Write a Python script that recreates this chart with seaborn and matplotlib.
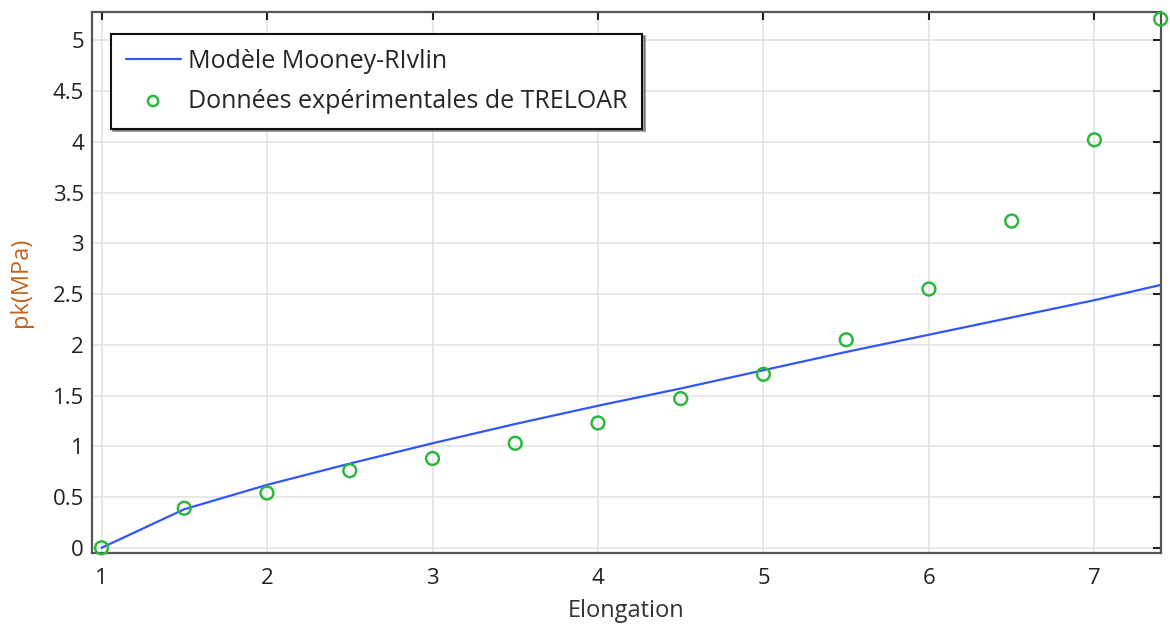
import matplotlib
matplotlib.use('Agg')
import matplotlib.pyplot as plt
import seaborn as sns
import pandas as pd

# Mooney-Rivlin model curve
model_elong = [1.0, 1.5, 2.0, 2.5, 3.0, 3.5, 4.0, 4.5, 5.0, 5.5, 6.0, 6.5, 7.0, 7.4]
model_pk = [0.0, 0.38, 0.62, 0.83, 1.03, 1.22, 1.40, 1.57, 1.75, 1.93, 2.10, 2.27, 2.44, 2.59]

# Treloar experimental data
exp_elong = [1.0, 1.5, 2.0, 2.5, 3.0, 3.5, 4.0, 4.5, 5.0, 5.5, 6.0, 6.5, 7.0, 7.4]
exp_pk = [0.0, 0.39, 0.54, 0.76, 0.88, 1.03, 1.23, 1.47, 1.71, 2.05, 2.55, 3.22, 4.02, 5.21]

x_ticks = [1, 2, 3, 4, 5, 6, 7]
y_ticks = [0, 0.5, 1, 1.5, 2, 2.5, 3, 3.5, 4, 4.5, 5]
y_ticklabels = ['0', '0.5', '1', '1.5', '2', '2.5', '3', '3.5', '4', '4.5', '5']

df_model = pd.DataFrame({'Elongation': model_elong, 'pk': model_pk})
df_exp = pd.DataFrame({'Elongation': exp_elong, 'pk': exp_pk})

sns.set_style('whitegrid')
plt.rcParams['font.family'] = ['Open Sans', 'DejaVu Sans']

fig = plt.figure(figsize=(11.7, 6.29), dpi=100)
ax = fig.add_axes([0.079, 0.121, 0.913, 0.860])

sns.lineplot(data=df_model, x='Elongation', y='pk', ax=ax, color='#3355ff',
             linewidth=1.6, label='Modèle Mooney-RIvlin')
sns.scatterplot(data=df_exp, x='Elongation', y='pk', ax=ax, marker='o',
                facecolor='none', edgecolor='#2db83d', linewidth=1.8, s=85,
                label='Données expérimentales de TRELOAR', clip_on=False, zorder=5)

ax.set_xlim(0.945, 7.4)
ax.set_ylim(-0.05, 5.28)
ax.set_xticks(x_ticks)
ax.set_yticks(y_ticks)
ax.set_yticklabels(y_ticklabels)
ax.tick_params(axis='both', labelsize=16, colors='#222222', length=6, width=1.5,
               direction='in', top=True, right=True)
ax.tick_params(axis='x', pad=11)
ax.tick_params(axis='y', pad=6)
ax.grid(True, color='#e4e4e4', linewidth=1.2)
for s in ax.spines.values():
    s.set_color('#555555')
    s.set_linewidth(1.6)

ax.set_xlabel('Elongation', fontsize=17, color='#333333', labelpad=7)
ax.set_ylabel('pk(MPa)', fontsize=17, color='#c0651e', labelpad=14)

leg = ax.legend(loc='upper left', bbox_to_anchor=(0.017, 0.96), fontsize=18,
                frameon=True, fancybox=False, shadow=True, borderpad=0.6,
                handlelength=2.2, handletextpad=0.3, labelspacing=0.6,
                borderaxespad=0, markerscale=0.8)
leg.get_frame().set_edgecolor('#111111')
leg.get_frame().set_linewidth(1.5)
leg.get_frame().set_facecolor('white')
leg.get_frame().set_alpha(1)

fig.savefig('out.png', dpi=100)
